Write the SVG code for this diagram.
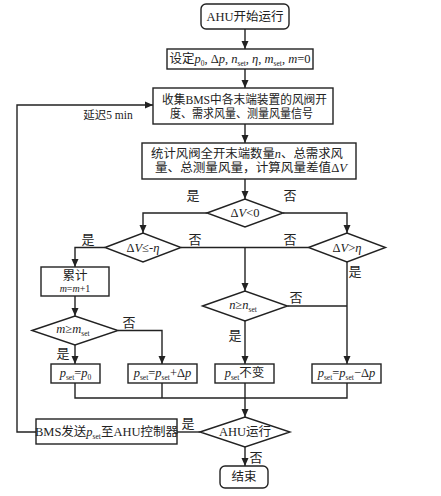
<svg xmlns="http://www.w3.org/2000/svg" width="441" height="496" viewBox="0 0 441 496">
<style>
.bx{fill:#fff;stroke:#222;stroke-width:1.4}
.ln{fill:none;stroke:#222;stroke-width:1.4}
text{font-family:"Liberation Serif","Noto Sans CJK SC",serif;font-size:12.5px;fill:#222;text-anchor:middle}
.lb{font-size:13px}
.i{font-style:italic}
.s{font-size:7.5px}
.t{font-size:12px}
</style>
<defs>
<marker id="ar" markerUnits="userSpaceOnUse" markerWidth="8" markerHeight="8" viewBox="0 0 8 8" refX="8" refY="4" orient="auto">
<path d="M0,0.5 L8,4 L0,7.5 Z" fill="#222"/>
</marker>
</defs>
<rect width="441" height="496" fill="#fff"/>
<g id="connectors">
<path class="ln" d="M245,29 V49" marker-end="url(#ar)"/>
<path class="ln" d="M245,69 V88" marker-end="url(#ar)"/>
<path class="ln" d="M245,124 V143" marker-end="url(#ar)"/>
<path class="ln" d="M245,179 V199" marker-end="url(#ar)"/>
<path class="ln" d="M207,213 H143 V233" marker-end="url(#ar)"/>
<path class="ln" d="M283,213 H347 V233" marker-end="url(#ar)"/>
<path class="ln" d="M105,247.5 H75 V267" marker-end="url(#ar)"/>
<path class="ln" d="M181,247.5 H308.5"/>
<path class="ln" d="M245,247.5 V291" marker-end="url(#ar)"/>
<path class="ln" d="M347,262 V364" marker-end="url(#ar)"/>
<path class="ln" d="M287.5,306 H347"/>
<path class="ln" d="M245,321 V364" marker-end="url(#ar)"/>
<path class="ln" d="M75,296 V316" marker-end="url(#ar)"/>
<path class="ln" d="M118,330.5 H162 V364" marker-end="url(#ar)"/>
<path class="ln" d="M75,345 V364" marker-end="url(#ar)"/>
<path class="ln" d="M75,383 V398 H347 V383 M162,383 V398"/>
<path class="ln" d="M245,383 V417" marker-end="url(#ar)"/>
<path class="ln" d="M200,432 H177"/>
<path class="ln" d="M245,447 V466" marker-end="url(#ar)"/>
<path class="ln" d="M36,432 H17 V105 H153" marker-end="url(#ar)"/>
<text class="lb" x="193" y="200">是</text>
<text class="lb" x="290" y="200">否</text>
<text class="lb" x="88" y="244">是</text>
<text class="lb" x="195" y="244">否</text>
<text class="lb" x="290" y="244">否</text>
<text class="lb" x="355" y="276">是</text>
<text class="lb" x="296" y="302">否</text>
<text class="lb" x="235" y="340">是</text>
<text class="lb" x="129" y="327">否</text>
<text class="lb" x="63" y="358">是</text>
<text class="lb" x="188" y="428">是</text>
<text class="lb" x="256" y="462">否</text>
<text x="108" y="119" style="font-size:11.5px">延迟5 min</text>
</g>
<g id="start">
<rect class="bx" x="201" y="4" width="88" height="25" rx="5"/>
<text x="245" y="21">AHU开始运行</text>
</g>
<g id="init">
<rect class="bx" x="167" y="49" width="146" height="20"/>
<text x="240" y="63">设定<tspan class="i">p</tspan><tspan class="s" dy="3">0</tspan><tspan dy="-3">, Δ</tspan><tspan class="i">p</tspan>, <tspan class="i">n</tspan><tspan class="s" dy="3">set</tspan><tspan dy="-3">, </tspan><tspan class="i">η</tspan>, <tspan class="i">m</tspan><tspan class="s" dy="3">set</tspan><tspan dy="-3">, </tspan><tspan class="i">m</tspan>=0</text>
</g>
<g id="collect">
<rect class="bx" x="153" y="88" width="180" height="36"/>
<text class="t" x="244.5" y="104" textLength="165" lengthAdjust="spacingAndGlyphs">收集BMS中各末端装置的风阀开</text>
<text class="t" x="241.5" y="118" textLength="143" lengthAdjust="spacingAndGlyphs">度、需求风量、测量风量信号</text>
</g>
<g id="stat">
<rect class="bx" x="142" y="143" width="214" height="36"/>
<text class="t" x="247" y="158" textLength="192" lengthAdjust="spacingAndGlyphs">统计风阀全开末端数量<tspan class="i">n</tspan>、总需求风</text>
<text class="t" x="251" y="172" textLength="192" lengthAdjust="spacingAndGlyphs">量、总测量风量，计算风量差值Δ<tspan class="i">V</tspan></text>
</g>
<g id="d1">
<polygon class="bx" points="207,213 245,199 283,213 245,227"/>
<text x="245" y="217">Δ<tspan class="i">V</tspan>&lt;0</text>
</g>
<g id="d2">
<polygon class="bx" points="105,247.5 143,233 181,247.5 143,262"/>
<text x="143" y="252">Δ<tspan class="i">V</tspan>≤-<tspan class="i">η</tspan></text>
</g>
<g id="d3">
<polygon class="bx" points="308.5,247.5 347,233 385.5,247.5 347,262"/>
<text x="347" y="252">Δ<tspan class="i">V</tspan>&gt;<tspan class="i">η</tspan></text>
</g>
<g id="d4">
<polygon class="bx" points="202.5,306 245,291 287.5,306 245,321"/>
<text x="243" y="309"><tspan class="i">n</tspan>≥<tspan class="i">n</tspan><tspan class="s" dy="3">set</tspan></text>
</g>
<g id="accum">
<rect class="bx" x="41" y="267" width="68" height="29"/>
<text x="75" y="280">累计</text>
<text x="75" y="292" style="font-size:10px"><tspan class="i">m</tspan>=<tspan class="i">m</tspan>+1</text>
</g>
<g id="d5">
<polygon class="bx" points="32,330.5 75,316 118,330.5 75,345"/>
<text x="73" y="333"><tspan class="i">m</tspan>≥<tspan class="i">m</tspan><tspan class="s" dy="3">set</tspan></text>
</g>
<g id="p1">
<rect class="bx" x="51" y="364" width="49" height="19"/>
<text x="75.5" y="377"><tspan class="i">p</tspan><tspan class="s" dy="3">set</tspan><tspan dy="-3">=</tspan><tspan class="i">p</tspan><tspan class="s" dy="3">0</tspan></text>
</g>
<g id="p2">
<rect class="bx" x="128" y="364" width="69" height="19"/>
<text x="162.5" y="377"><tspan class="i">p</tspan><tspan class="s" dy="3">set</tspan><tspan dy="-3">=</tspan><tspan class="i">p</tspan><tspan class="s" dy="3">set</tspan><tspan dy="-3">+Δ</tspan><tspan class="i">p</tspan></text>
</g>
<g id="p3">
<rect class="bx" x="215" y="364" width="59" height="19"/>
<text x="244.5" y="377"><tspan class="i">p</tspan><tspan class="s" dy="3">set</tspan><tspan dy="-3">不变</tspan></text>
</g>
<g id="p4">
<rect class="bx" x="312" y="364" width="69" height="19"/>
<text x="346.5" y="377"><tspan class="i">p</tspan><tspan class="s" dy="3">set</tspan><tspan dy="-3">=</tspan><tspan class="i">p</tspan><tspan class="s" dy="3">set</tspan><tspan dy="-3">−Δ</tspan><tspan class="i">p</tspan></text>
</g>
<g id="send">
<rect class="bx" x="36" y="419" width="141" height="25"/>
<text x="106.5" y="436">BMS发送<tspan class="i">p</tspan><tspan class="s" dy="3">set</tspan><tspan dy="-3">至AHU控制器</tspan></text>
</g>
<g id="d6">
<polygon class="bx" points="200,432 245,417 290,432 245,447"/>
<text x="245" y="436">AHU运行</text>
</g>
<g id="end">
<rect class="bx" x="220" y="466" width="48" height="22" rx="5"/>
<text x="244" y="481">结束</text>
</g>
</svg>
